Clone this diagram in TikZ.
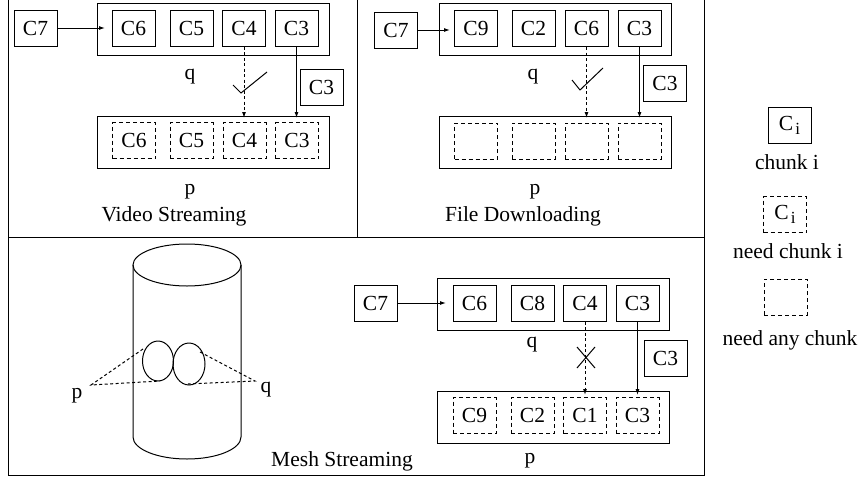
\documentclass[tikz,border=0pt]{standalone}
\usepackage{fontspec}
\setmainfont{Liberation Serif}
\usetikzlibrary{arrows.meta}
\begin{document}
\begin{tikzpicture}[x=1pt,y=-1pt,line width=1pt,
  font=\fontsize{21.5}{24}\selectfont,
  chunk/.style={draw, minimum width=43pt, minimum height=36pt, inner sep=0pt},
  want/.style={chunk, dash pattern=on 4pt off 3pt},
  queue/.style={draw, minimum width=232pt, minimum height=52pt, inner sep=0pt},
  lbl/.style={inner sep=0pt},
  tip/.style={-{Latex[length=6pt,width=4pt]}},
  dtip/.style={tip, dash pattern=on 3pt off 2.5pt},
  link/.style={dash pattern=on 3pt off 2.5pt}]
\newcommand{\Ci}{C\hspace{2pt}\raisebox{-4pt}{\fontsize{17}{17}\selectfont i}}
\useasboundingbox (0,0) rectangle (862,477);

% panel frame
\draw (8,0) -- (8,475) -- (704,475) -- (704,0);
\draw (8,237) -- (704,237);
\draw (357,0) -- (357,237);

% ---------- Video Streaming ----------
\node[queue] (vq) at (213,29) {};
\node[chunk] (v7) at (35.5,28) {C7};
\node[chunk] (vq6) at (133.5,28) {C6};
\node[chunk] (vq5) at (191.5,28) {C5};
\node[chunk] (vq4) at (244,28) {C4};
\node[chunk] (vq3) at (296.5,28) {C3};
\node[lbl] (vqlab) at (190,77) {q};
\node[queue] (vp) at (213,142) {};
\node[want] (vp6) at (134,140.5) {C6};
\node[want] (vp5) at (191.5,140.5) {C5};
\node[want] (vp4) at (244.5,140.5) {C4};
\node[want] (vp3) at (297,140.5) {C3};
\node[lbl] (vplab) at (190,192) {p};
\node[chunk] (vsend) at (321.5,87) {C3};
\node[lbl] (vtitle) at (174,216) {Video Streaming};
\coordinate (vin) at (105,28);
\coordinate (vdl) at (244,118);
\coordinate (vdr) at (296.5,118);
\draw[tip] (v7) -- (vin);
\draw[dtip] (vq4.south) -- (vdl);
\draw[tip] (vq3.south) -- (vdr);
\draw (233,85) -- (241,93) -- (267,72);

% ---------- File Downloading ----------
\node[queue] (fq) at (555,29) {};
\node[chunk] (f7) at (396,30) {C7};
\node[chunk] (fq9) at (476,28.5) {C9};
\node[chunk] (fq2) at (533.5,28.5) {C2};
\node[chunk] (fq6) at (586.5,28.5) {C6};
\node[chunk] (fq3) at (639.5,28.5) {C3};
\node[lbl] (fqlab) at (533,77) {q};
\node[queue] (fp) at (555,142) {};
\node[want] (fpa) at (476,141) {};
\node[want] (fpb) at (533.5,141) {};
\node[want] (fpc) at (586.5,141) {};
\node[want] (fpd) at (639.5,141) {};
\node[lbl] (fplab) at (535,192) {p};
\node[chunk] (fsend) at (665,83) {C3};
\node[lbl] (ftitle) at (523,216) {File Downloading};
\coordinate (fin) at (450,30);
\coordinate (fdl) at (586.5,118);
\coordinate (fdr) at (639.5,118);
\draw[tip] (f7) -- (fin);
\draw[dtip] (fq6.south) -- (fdl);
\draw[tip] (fq3.south) -- (fdr);
\draw (572,80) -- (580,90) -- (603,68);

% ---------- Mesh Streaming ----------
\node[queue] (mq) at (553,304) {};
\node[chunk] (m7) at (375.5,303) {C7};
\node[chunk] (mq6) at (474.5,303) {C6};
\node[chunk] (mq8) at (532.5,303) {C8};
\node[chunk] (mq4) at (585,303) {C4};
\node[chunk] (mq3) at (637.5,303) {C3};
\node[lbl] (mqlab) at (532,345) {q};
\node[queue] (mp) at (553,417) {};
\node[want] (mp9) at (474.5,415.5) {C9};
\node[want] (mp2) at (532.5,415.5) {C2};
\node[want] (mp1) at (585,415.5) {C1};
\node[want] (mp3) at (637.5,415.5) {C3};
\node[lbl] (mplab) at (530,461) {p};
\node[chunk] (msend) at (665.5,358.5) {C3};
\node[lbl] (mtitle) at (342,461) {Mesh Streaming};
\coordinate (min) at (446,303);
\coordinate (mdl) at (585,395);
\coordinate (mdr) at (637.5,395);
\draw[tip] (m7) -- (min);
\draw[dtip] (mq4.south) -- (mdl);
\draw[tip] (mq3.south) -- (mdr);
\draw (577,347) -- (595,368);
\draw (595,347) -- (577,368);

% cylinder with two overlapping regions
\draw (187,265) ellipse [x radius=54pt, y radius=21pt];
\draw (133,265) -- (133,437)
  .. controls (133,449) and (157,459) .. (187,459)
  .. controls (217,459) and (241,449) .. (241,437) -- (241,265);
\draw (158,361) ellipse [x radius=15.5pt, y radius=20pt];
\draw (189,364) ellipse [x radius=16pt, y radius=21pt];
\coordinate (pp) at (91,385);
\coordinate (qq) at (255,381);
\node[lbl] (cplab) at (77,396) {p};
\node[lbl] (cqlab) at (266,390) {q};
\draw[link] (143,349) -- (pp) -- (160,381);
\draw[link] (200,352) -- (qq) -- (188,384);

% ---------- legend ----------
\node[chunk] (lc) at (789.5,125) {\Ci};
\node[lbl] (lct) at (787,162) {chunk i};
\node[want] (lw) at (785,214.5) {\Ci};
\node[lbl] (lwt) at (788,251) {need chunk i};
\node[want] (la) at (785.5,297) {};
\node[lbl] (lat) at (790,340) {need any chunk};
\end{tikzpicture}
\end{document}
